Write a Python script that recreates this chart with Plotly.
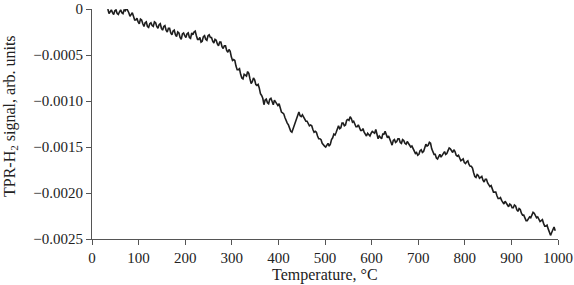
import plotly.graph_objects as go

temperature = [34, 39, 44, 49, 54, 59, 64, 69, 74, 79, 84, 89, 94, 99, 104, 109, 114, 119, 124, 129,
               134, 139, 144, 149, 154, 159, 164, 169, 174, 179, 184, 189, 194, 199, 204, 209, 214, 219, 224, 229,
               234, 239, 244, 249, 254, 259, 264, 269, 274, 279, 284, 289, 294, 299, 304, 309, 314, 319, 324, 329,
               334, 339, 344, 349, 354, 359, 364, 369, 374, 379, 384, 389, 394, 399, 404, 409, 414, 419, 424, 429,
               434, 439, 444, 449, 454, 459, 464, 469, 474, 479, 484, 489, 494, 499, 504, 509, 514, 519, 524, 529,
               534, 539, 544, 549, 554, 559, 564, 569, 574, 579, 584, 589, 594, 599, 604, 609, 614, 619, 624, 629,
               634, 639, 644, 649, 654, 659, 664, 669, 674, 679, 684, 689, 694, 699, 704, 709, 714, 719, 724, 729,
               734, 739, 744, 749, 754, 759, 764, 769, 774, 779, 784, 789, 794, 799, 804, 809, 814, 819, 824, 829,
               834, 839, 844, 849, 854, 859, 864, 869, 874, 879, 884, 889, 894, 899, 904, 909, 914, 919, 924, 929,
               934, 939, 944, 949, 954, 959, 964, 969, 974, 979, 984, 989, 994]

signal = [0.0, -0.00003, -0.00004, -0.00002, -0.00005, -0.00003, -0.00004, -0.00001, 0.00001, -0.00004,
          -0.00006, -0.00008, -0.00012, -0.00014, -0.00011, -0.00016, -0.00015, -0.00019, -0.00016, -0.00018,
          -0.00014, -0.00019, -0.00017, -0.00021, -0.00019, -0.00023, -0.00021, -0.00026, -0.00024, -0.00028,
          -0.00025, -0.00031, -0.00027, -0.00029, -0.00027, -0.00031, -0.00026, -0.00025, -0.00029, -0.00033,
          -0.00036, -0.00030, -0.00033, -0.00029, -0.00031, -0.00035, -0.00033, -0.00038, -0.00036, -0.00041,
          -0.00040, -0.00045, -0.00044, -0.00052, -0.00055, -0.00062, -0.00066, -0.00071, -0.00076, -0.00072,
          -0.00068, -0.00076, -0.00079, -0.00077, -0.00083, -0.00086, -0.00094, -0.00104, -0.00098, -0.00103,
          -0.00097, -0.00104, -0.00101, -0.00105, -0.00108, -0.00113, -0.00118, -0.00124, -0.00130, -0.00134,
          -0.00126, -0.00118, -0.00112, -0.00117, -0.00118, -0.00122, -0.00125, -0.00126, -0.00131, -0.00133,
          -0.00138, -0.00141, -0.00146, -0.00149, -0.00147, -0.00149, -0.00142, -0.00136, -0.00134, -0.00127,
          -0.00129, -0.00124, -0.00126, -0.00120, -0.00117, -0.00123, -0.00125, -0.00128, -0.00129, -0.00132,
          -0.00134, -0.00138, -0.00137, -0.00135, -0.00134, -0.00131, -0.00141, -0.00139, -0.00136, -0.00133,
          -0.00140, -0.00142, -0.00148, -0.00142, -0.00144, -0.00141, -0.00146, -0.00143, -0.00147, -0.00146,
          -0.00150, -0.00152, -0.00157, -0.00159, -0.00154, -0.00156, -0.00150, -0.00149, -0.00145, -0.00152,
          -0.00158, -0.00162, -0.00160, -0.00161, -0.00156, -0.00158, -0.00154, -0.00152, -0.00156, -0.00155,
          -0.00160, -0.00162, -0.00164, -0.00167, -0.00166, -0.00169, -0.00171, -0.00178, -0.00183, -0.00181,
          -0.00183, -0.00186, -0.00185, -0.00189, -0.00193, -0.00196, -0.00199, -0.00203, -0.00206, -0.00208,
          -0.00212, -0.00211, -0.00215, -0.00213, -0.00216, -0.00214, -0.00220, -0.00218, -0.00224, -0.00227,
          -0.00230, -0.00226, -0.00224, -0.00222, -0.00227, -0.00228, -0.00230, -0.00233, -0.00236, -0.00239,
          -0.00246, -0.00239, -0.00241]

temperature_mid = [36.5, 41.5, 46.5, 51.5, 56.5, 61.5, 66.5, 71.5, 76.5, 81.5, 86.5, 91.5, 96.5, 101.5, 106.5,
                   111.5, 116.5, 121.5, 126.5, 131.5, 136.5, 141.5, 146.5, 151.5, 156.5, 161.5, 166.5, 171.5,
                   176.5, 181.5, 186.5, 191.5, 196.5, 201.5, 206.5, 211.5, 216.5, 221.5, 226.5, 231.5, 236.5,
                   241.5, 246.5, 251.5, 256.5, 261.5, 266.5, 271.5, 276.5, 281.5, 286.5, 291.5, 296.5, 301.5,
                   306.5, 311.5, 316.5, 321.5, 326.5, 331.5, 336.5, 341.5, 346.5, 351.5, 356.5, 361.5, 366.5,
                   371.5, 376.5, 381.5, 386.5, 391.5, 396.5, 401.5, 406.5, 411.5, 416.5, 421.5, 426.5, 431.5,
                   436.5, 441.5, 446.5, 451.5, 456.5, 461.5, 466.5, 471.5, 476.5, 481.5, 486.5, 491.5, 496.5,
                   501.5, 506.5, 511.5, 516.5, 521.5, 526.5, 531.5, 536.5, 541.5, 546.5, 551.5, 556.5, 561.5,
                   566.5, 571.5, 576.5, 581.5, 586.5, 591.5, 596.5, 601.5, 606.5, 611.5, 616.5, 621.5, 626.5,
                   631.5, 636.5, 641.5, 646.5, 651.5, 656.5, 661.5, 666.5, 671.5, 676.5, 681.5, 686.5, 691.5,
                   696.5, 701.5, 706.5, 711.5, 716.5, 721.5, 726.5, 731.5, 736.5, 741.5, 746.5, 751.5, 756.5,
                   761.5, 766.5, 771.5, 776.5, 781.5, 786.5, 791.5, 796.5, 801.5, 806.5, 811.5, 816.5, 821.5,
                   826.5, 831.5, 836.5, 841.5, 846.5, 851.5, 856.5, 861.5, 866.5, 871.5, 876.5, 881.5, 886.5,
                   891.5, 896.5, 901.5, 906.5, 911.5, 916.5, 921.5, 926.5, 931.5, 936.5, 941.5, 946.5, 951.5,
                   956.5, 961.5, 966.5, 971.5, 976.5, 981.5, 986.5, 991.5]

signal_mid = [-0.00005, -0.00001, -0.00006, -0.00001, -0.00006, -0.00001, -0.00005, -0.00002, -0.00001, -0.00008,
              -0.00004, -0.00012, -0.00010, -0.00016, -0.00012, -0.00019, -0.00014, -0.00020, -0.00015, -0.00019,
              -0.00015, -0.00021, -0.00016, -0.00023, -0.00018, -0.00025, -0.00021, -0.00028, -0.00023, -0.00030,
              -0.00026, -0.00033, -0.00026, -0.00031, -0.00026, -0.00032, -0.00028, -0.00024, -0.00033, -0.00031,
              -0.00035, -0.00029, -0.00034, -0.00028, -0.00031, -0.00037, -0.00034, -0.00040, -0.00036, -0.00043,
              -0.00040, -0.00047, -0.00046, -0.00056, -0.00056, -0.00066, -0.00065, -0.00075, -0.00071, -0.00073,
              -0.00070, -0.00081, -0.00075, -0.00082, -0.00082, -0.00092, -0.00097, -0.00099, -0.00102, -0.00098,
              -0.00102, -0.00099, -0.00104, -0.00103, -0.00112, -0.00114, -0.00122, -0.00126, -0.00133, -0.00130,
              -0.00123, -0.00114, -0.00116, -0.00115, -0.00121, -0.00122, -0.00127, -0.00127, -0.00134, -0.00134,
              -0.00141, -0.00142, -0.00148, -0.00150, -0.00146, -0.00147, -0.00140, -0.00137, -0.00129, -0.00130,
              -0.00124, -0.00127, -0.00121, -0.00121, -0.00119, -0.00122, -0.00128, -0.00126, -0.00132, -0.00130,
              -0.00137, -0.00135, -0.00138, -0.00133, -0.00135, -0.00137, -0.00138, -0.00141, -0.00136, -0.00138,
              -0.00138, -0.00146, -0.00143, -0.00145, -0.00141, -0.00145, -0.00142, -0.00146, -0.00144, -0.00149,
              -0.00149, -0.00156, -0.00156, -0.00158, -0.00153, -0.00155, -0.00147, -0.00148, -0.00146, -0.00156,
              -0.00158, -0.00163, -0.00158, -0.00159, -0.00155, -0.00157, -0.00151, -0.00155, -0.00153, -0.00159,
              -0.00159, -0.00165, -0.00163, -0.00168, -0.00165, -0.00171, -0.00173, -0.00182, -0.00180, -0.00184,
              -0.00182, -0.00188, -0.00185, -0.00192, -0.00192, -0.00199, -0.00199, -0.00206, -0.00205, -0.00211,
              -0.00209, -0.00214, -0.00212, -0.00216, -0.00213, -0.00218, -0.00217, -0.00222, -0.00224, -0.00230,
              -0.00227, -0.00227, -0.00221, -0.00225, -0.00226, -0.00231, -0.00229, -0.00236, -0.00235, -0.00243,
              -0.00243, -0.00237]

x_ticks = [0, 100, 200, 300, 400, 500, 600, 700, 800, 900, 1000]
y_ticks = [0, -0.0005, -0.0010, -0.0015, -0.0020, -0.0025]
y_tick_labels = ["0", "\u22120.0005", "\u22120.0010", "\u22120.0015", "\u22120.0020", "\u22120.0025"]
x_title = "Temperature, \u00b0C"
y_title = "TPR-H<sub>2</sub> signal, arb. units"

# merge the two sampled sets in temperature order
points = sorted(zip(temperature + temperature_mid, signal + signal_mid))
xs = [p[0] for p in points]
ys = [p[1] for p in points]

fig = go.Figure()
fig.add_trace(go.Scatter(x=xs, y=ys, mode="lines",
                         line=dict(color="#1e1e1e", width=1.6), showlegend=False))

font_family = "Liberation Serif"
text_color = "#222222"
axis_common = dict(showgrid=False, zeroline=False, showline=True, linecolor="#555555", linewidth=1,
                   ticks="outside", ticklen=5, tickcolor="#555555", tickwidth=1, automargin=False,
                   tickfont=dict(family=font_family, size=15, color=text_color))

fig.update_layout(
    width=574, height=285,
    margin=dict(l=92, r=16, t=9, b=46),
    paper_bgcolor="white", plot_bgcolor="white",
    xaxis=dict(range=[0, 1000], tickvals=x_ticks, **axis_common),
    yaxis=dict(range=[-0.0025, 0], tickvals=y_ticks, ticktext=y_tick_labels, **axis_common),
    annotations=[
        dict(text=x_title, xref="paper", yref="paper", x=0.5, y=0, xanchor="center", yanchor="middle",
             yshift=-36, showarrow=False, font=dict(family=font_family, size=16, color=text_color)),
        dict(text=y_title, xref="paper", yref="paper", x=0, y=0.5, xanchor="center", yanchor="middle",
             xshift=-82, yshift=8, textangle=-90, showarrow=False,
             font=dict(family=font_family, size=16, color=text_color)),
    ],
)

fig.write_html("out.html", config={"displayModeBar": False},
               post_script="document.body.style.margin='0';")
